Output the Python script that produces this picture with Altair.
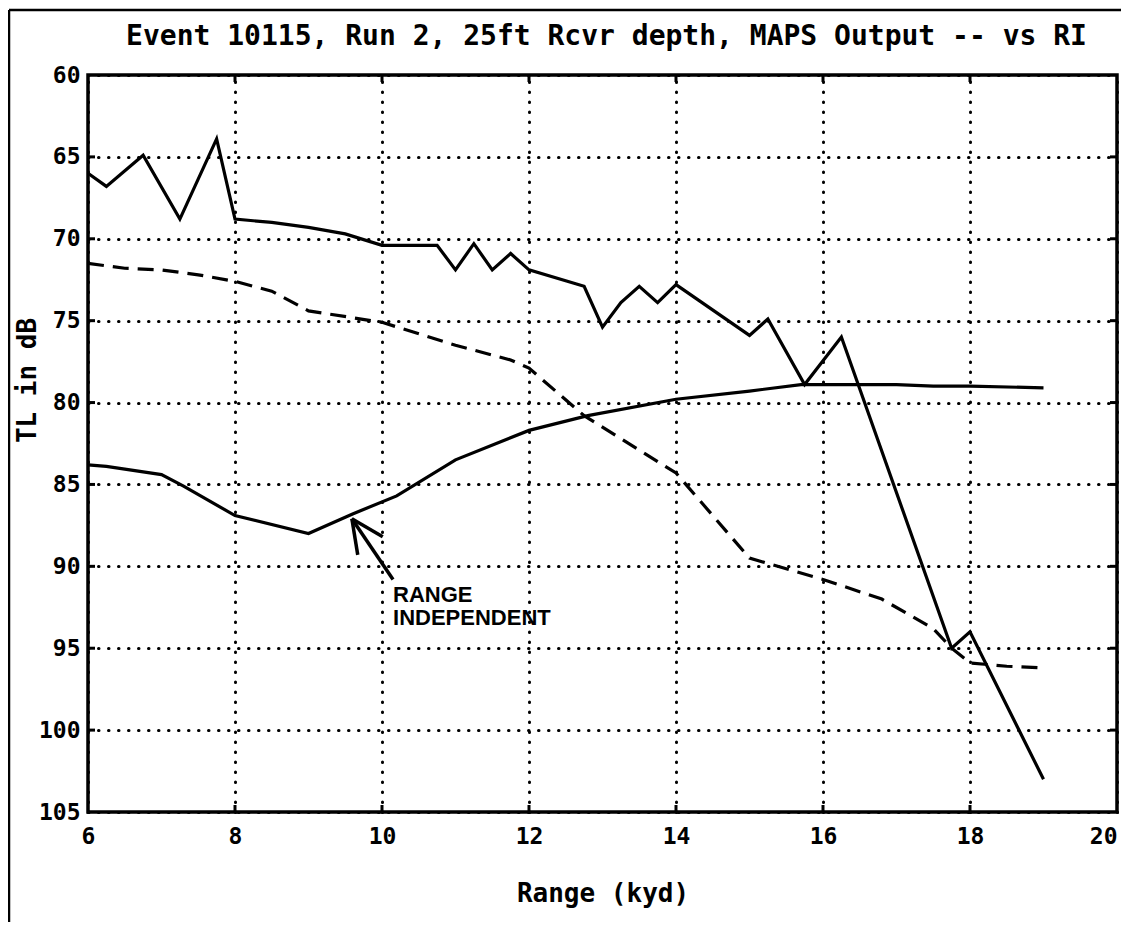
import altair as alt
import pandas as pd

# ---- data ----
maps_x = [6.0, 6.25, 6.75, 7.25, 7.75, 8.0, 8.5, 9.0, 9.5, 10.0, 10.75, 11.0, 11.25, 11.5, 11.75,
          12.0, 12.75, 13.0, 13.25, 13.5, 13.75, 14.0, 15.0, 15.25, 15.75, 16.25, 17.75, 18.0, 19.0]
maps_y = [66.0, 66.8, 64.9, 68.8, 63.9, 68.8, 69.0, 69.3, 69.7, 70.4, 70.4, 71.9, 70.3, 71.9, 70.9,
          71.9, 72.9, 75.4, 73.9, 72.9, 73.9, 72.8, 75.9, 74.9, 78.9, 76.0, 95.0, 94.0, 103.0]

dash_x = [6.0, 6.5, 7.0, 7.5, 8.0, 8.5, 9.0, 10.0, 11.0, 11.75, 12.0, 12.75, 14.0, 15.0,
          16.0, 16.8, 17.5, 17.75, 18.0, 18.5, 19.0]
dash_y = [71.5, 71.8, 71.9, 72.2, 72.6, 73.2, 74.4, 75.1, 76.5, 77.4, 77.9, 80.8, 84.3, 89.5,
          90.8, 92.0, 93.8, 95.0, 95.9, 96.1, 96.2]

ri_x = [6.0, 6.25, 7.0, 7.3, 8.0, 9.0, 9.6, 10.2, 11.0, 12.0, 12.8, 14.0, 15.0, 15.7,
        16.4, 17.0, 17.5, 18.0, 19.0]
ri_y = [83.8, 83.9, 84.4, 85.1, 86.9, 88.0, 86.8, 85.7, 83.5, 81.7, 80.8, 79.8, 79.3, 78.9,
        78.9, 78.9, 79.0, 79.0, 79.1]

x_ticks = [6, 8, 10, 12, 14, 16, 18, 20]
y_ticks = [60, 65, 70, 75, 80, 85, 90, 95, 100, 105]

note_lines = ["RANGE", "INDEPENDENT"]
note_x = [10.15, 10.15]
note_y = [91.75, 93.15]

arrow_seg = ["shaft", "shaft", "wing1", "wing1", "wing2", "wing2"]
arrow_x = [10.15, 9.59, 9.59, 9.67, 9.59, 10.01]
arrow_y = [90.8, 87.1, 87.1, 89.3, 87.1, 88.2]

TITLE = "Event 10115, Run 2, 25ft Rcvr depth, MAPS Output -- vs RI"
MONO = "DejaVu Sans Mono"

W, H = 1029, 737

xscale = alt.Scale(domain=[6, 20], nice=False, zero=False)
yscale = alt.Scale(domain=[60, 105], reverse=True, nice=False, zero=False)

xaxis = alt.Axis(values=x_ticks, title="Range (kyd)", grid=True, domain=False, ticks=False,
                 labelPadding=13, titleY=81, titleBaseline="middle", labelFlush=False,
                 labelAlign={"expr": "datum.value == 20 ? 'right' : 'center'"})
yaxis = alt.Axis(values=y_ticks, title="TL in dB", grid=True, domain=False, ticks=False,
                 labelPadding=8, titleX=-61, titleY=305, titleBaseline="middle",
                 titleAlign="center", labelFlush=False)

df_maps = pd.DataFrame({"Range": maps_x, "TL": maps_y})
df_dash = pd.DataFrame({"Range": dash_x, "TL": dash_y})
df_ri = pd.DataFrame({"Range": ri_x, "TL": ri_y})
df_note = pd.DataFrame({"Range": note_x, "TL": note_y, "label": note_lines})
df_arrow = pd.DataFrame({"seg": arrow_seg, "Range": arrow_x, "TL": arrow_y,
                         "ord": list(range(len(arrow_x)))})
df_xt = pd.DataFrame({"Range": x_ticks[1:-1]})
df_yt = pd.DataFrame({"TL": y_ticks[1:-1]})
df_one = pd.DataFrame({"k": [0]})

X = alt.X("Range:Q", scale=xscale, axis=xaxis)
Y = alt.Y("TL:Q", scale=yscale, axis=yaxis)

base_line = dict(color="black", strokeWidth=3.2, clip=False)

maps = alt.Chart(df_maps).mark_line(**base_line).encode(x=X, y=Y)
dashed = alt.Chart(df_dash).mark_line(strokeDash=[16, 9], **base_line).encode(x=X, y=Y)
ri = alt.Chart(df_ri).mark_line(**base_line).encode(x=X, y=Y)
arrow = alt.Chart(df_arrow).mark_line(color="black", strokeWidth=3.5).encode(
    x=X, y=Y, detail="seg:N", order="ord:Q")
note = alt.Chart(df_note).mark_text(
    font="Liberation Sans", fontWeight="bold", fontSize=22, align="left",
    baseline="middle", color="black"
).encode(x=X, y=Y, text="label:N")

# chart title drawn as a text mark above the plot
title = alt.Chart(df_one).mark_text(
    font=MONO, fontWeight="bold", fontSize=28, align="center", baseline="alphabetic",
    color="black"
).encode(x=alt.value(W / 2 + 4), y=alt.value(-30), text=alt.value(TITLE))

# inward tick marks on all four sides
tick_len = 7
xt_bottom = alt.Chart(df_xt).mark_rule(color="black", strokeWidth=3).encode(
    x=X, y=alt.value(H), y2=alt.value(H - tick_len))
xt_top = alt.Chart(df_xt).mark_rule(color="black", strokeWidth=3).encode(
    x=X, y=alt.value(0), y2=alt.value(tick_len))
yt_left = alt.Chart(df_yt).mark_rule(color="black", strokeWidth=3).encode(
    y=Y, x=alt.value(0), x2=alt.value(tick_len))
yt_right = alt.Chart(df_yt).mark_rule(color="black", strokeWidth=3).encode(
    y=Y, x=alt.value(W), x2=alt.value(W - tick_len))

# outer frame of the scanned page (left and top edges)
frame_left = alt.Chart(df_one).mark_rule(color="black", strokeWidth=2.5).encode(
    x=alt.value(-79), y=alt.value(-65), y2=alt.value(860))
frame_top = alt.Chart(df_one).mark_rule(color="black", strokeWidth=2.5).encode(
    x=alt.value(-79), x2=alt.value(1045), y=alt.value(-65))

chart = alt.layer(
    maps, dashed, ri, arrow, note, title, xt_bottom, xt_top, yt_left, yt_right,
    frame_left, frame_top
).properties(
    width=W,
    height=H,
    autosize=alt.AutoSizeParams(type="none"),
    padding={"left": 80, "top": 67, "right": 4, "bottom": 110},
    background="white",
).configure_view(
    stroke="black", strokeWidth=3.5
).configure_axis(
    labelFont=MONO, labelFontWeight="bold", labelFontSize=23, labelColor="black",
    titleFont=MONO, titleFontWeight="bold", titleFontSize=26, titleColor="black",
    gridColor="black", gridOpacity=1, gridWidth=3, gridDash=[0.5, 9.5], gridCap="round",
)

chart.save("out.html", embed_options={"renderer": "svg", "actions": False})
